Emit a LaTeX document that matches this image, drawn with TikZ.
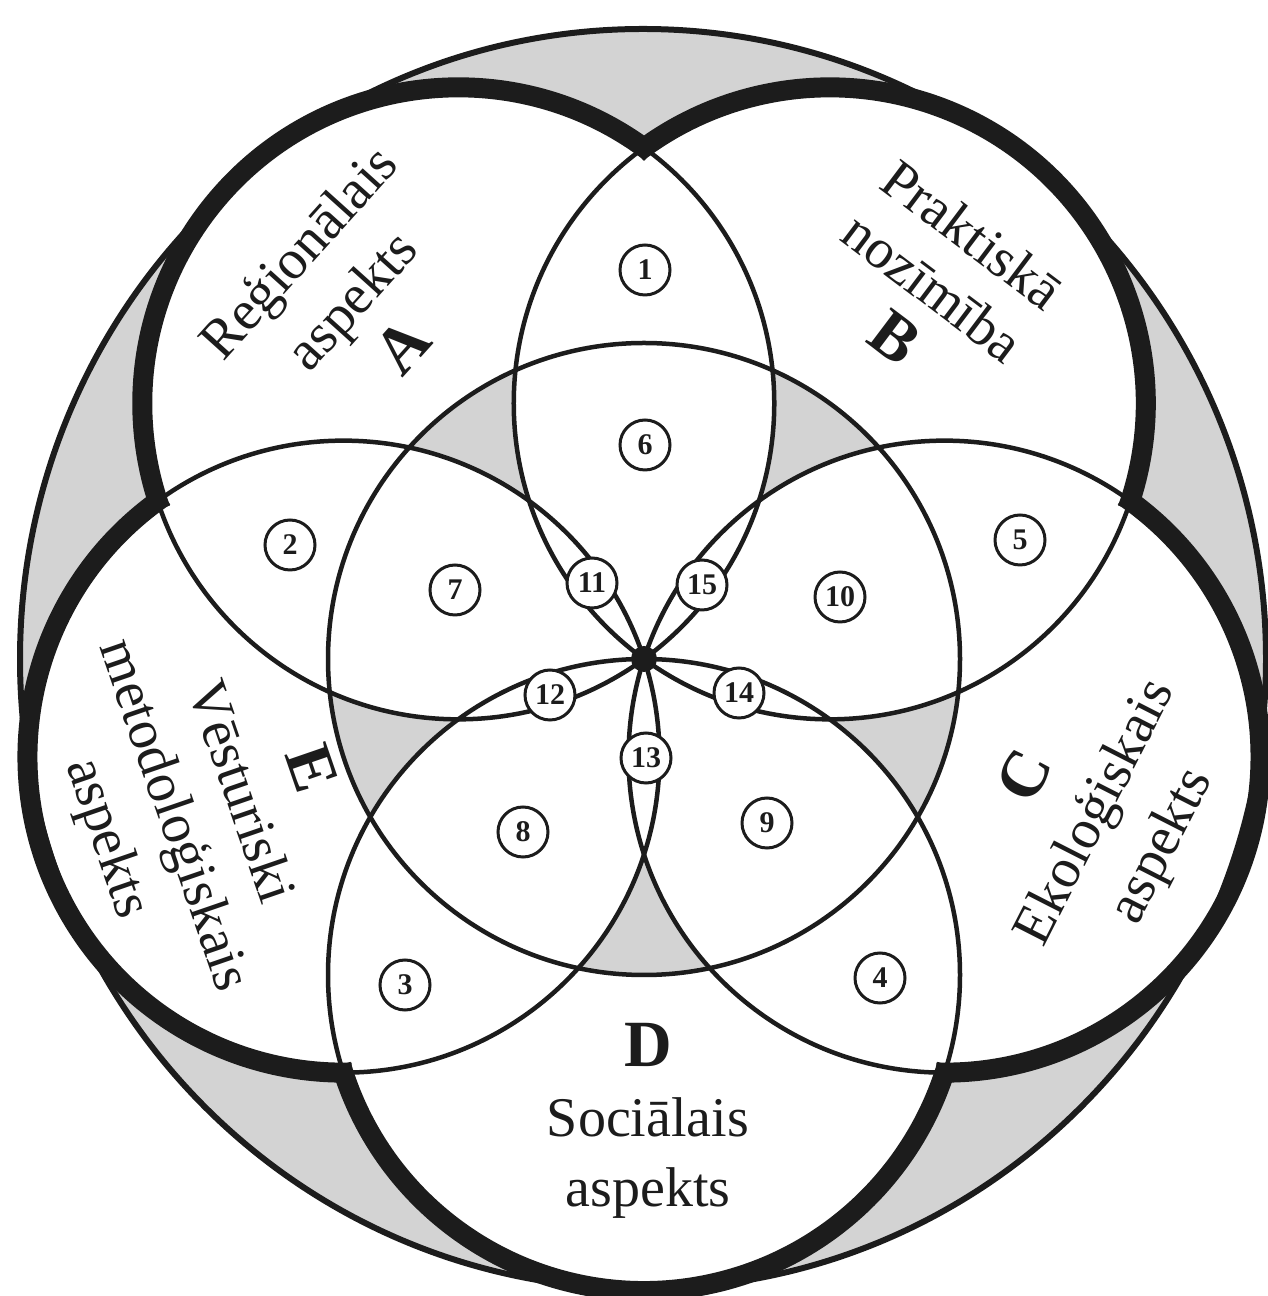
\documentclass[tikz,border=0pt]{standalone}
\usepackage{fontspec}
\setmainfont{Liberation Serif}
\definecolor{ink}{HTML}{1C1C1C}
\definecolor{halftone}{HTML}{D3D3D3}
\newcommand{\bigletter}[1]{{\fontsize{66}{70}\selectfont\bfseries #1}}
\begin{document}
\begin{tikzpicture}[x=1pt,y=1pt,
  ringline/.style={draw=ink,line width=4.5pt},
  rimline/.style={draw=ink,line width=20pt},
  outerline/.style={draw=ink,line width=6pt},
  numc/.style={circle,draw=ink,fill=white,line width=3pt,minimum size=50pt,inner sep=0pt,
    font=\fontsize{30}{32}\selectfont\bfseries,text=ink},
  lab/.style={inner sep=0pt,align=center,text=ink}]
\useasboundingbox (0,0) rectangle (1267,1296);
\fill[white] (0,0) rectangle (1267,1296);
\begin{scope}[shift={(644,637)}]
  % gray outside the five circles
  \fill[halftone] (-1,0) ellipse [x radius=623, y radius=630];
  \foreach \a in {126,54,-18,-90,198} \fill[white] (\a:316) circle[radius=316];
  % gray inside central circle where only one circle covers
  \begin{scope}
    \clip (0,0) circle[radius=316];
    \fill[halftone] (0,0) circle[radius=316];
    \foreach \a/\b in {126/54,126/-18,126/-90,126/198,54/-18,54/-90,54/198,-18/-90,-18/198,-90/198}{
      \begin{scope}
        \clip (\a:316) circle[radius=316];
        \fill[white] (\b:316) circle[radius=316];
      \end{scope}
    }
  \end{scope}
  % thin circle lines
  \foreach \a in {126,54,-18,-90,198} \draw[ringline] (\a:316) circle[radius=316];
  \draw[ringline] (0,0) circle[radius=316];
  % thick outer arcs
  \foreach \a in {126,54,-18,-90,198}{
    \begin{scope}[shift={(\a:316)}]
      \draw[rimline] (\a-73.5:316) arc[start angle=\a-73.5, end angle=\a+73.5, radius=316];
    \end{scope}
  }
  \draw[outerline] (-1,0) ellipse [x radius=623, y radius=630];
  \fill[ink] (0,0) circle[radius=13];
\end{scope}
% numbered circles
\node[numc] (n1) at (645,1026) {1};
\node[numc] (n2) at (290,751) {2};
\node[numc] (n3) at (405,311) {3};
\node[numc] (n4) at (880,318) {4};
\node[numc] (n5) at (1020,756) {5};
\node[numc] (n6) at (645,851) {6};
\node[numc] (n7) at (455,706) {7};
\node[numc] (n8) at (523,464) {8};
\node[numc] (n9) at (767,473) {9};
\node[numc] (n10) at (840,699) {10};
\node[numc] (n11) at (592,713) {11};
\node[numc] (n12) at (550,601) {12};
\node[numc] (n13) at (646,538) {13};
\node[numc] (n14) at (739,603) {14};
\node[numc] (n15) at (702,711) {15};
% labels
\node[lab,rotate=48,font=\fontsize{56}{72}\selectfont] (ta) at (350,997)
  {Reģionālais\\aspekts\\\bigletter{A}};
\node[lab,rotate=-37,font=\fontsize{56}{66}\selectfont] (tb) at (933,1009)
  {Praktiskā\\nozīmība\\\bigletter{B}};
\node[lab,rotate=63,font=\fontsize{56}{74}\selectfont] (tc) at (1095,484)
  {\bigletter{C}\\Ekoloģiskais\\aspekts};
\node[lab,font=\fontsize{56}{70}\selectfont] (td) at (648,175)
  {\bigletter{D}\\Sociālais\\aspekts};
\node[lab,rotate=-71,font=\fontsize{56}{70}\selectfont] (te) at (207,492)
  {\bigletter{E}\\Vēsturiski\\metodoloģiskais\\aspekts};
\end{tikzpicture}
\end{document}
